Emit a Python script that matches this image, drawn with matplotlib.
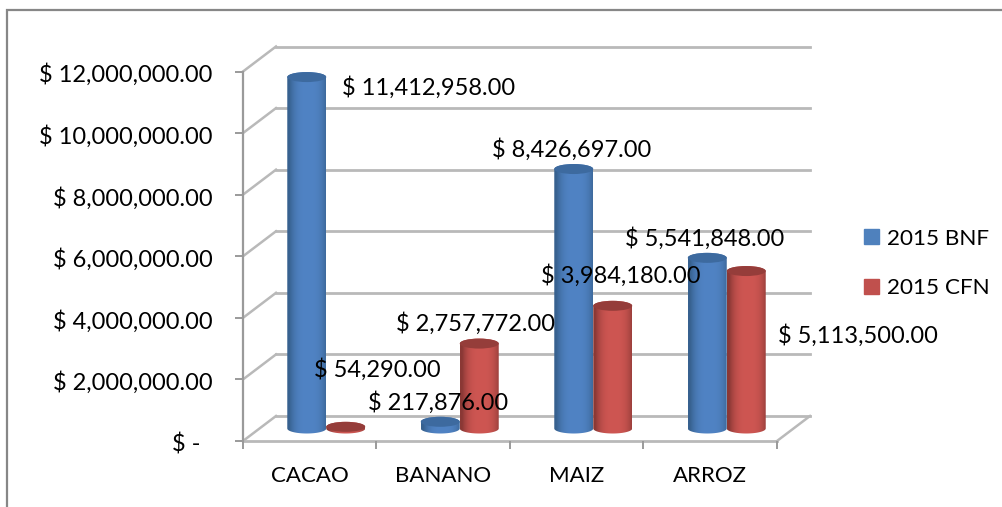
"""
Cylinder chart BNF / CFN 2015 by crop
"""
import numpy as np
import matplotlib
matplotlib.use('Agg')
import matplotlib.pyplot as plt
from matplotlib.patches import Ellipse, PathPatch, Patch, Rectangle
from matplotlib.path import Path
from matplotlib.transforms import Affine2D

plt.rcParams['font.family'] = ['Lato', 'DejaVu Sans']

#=============== data ===============================
categories = ["CACAO", "BANANO", "MAIZ", "ARROZ"]
bnf = [11412958., 217876., 8426697., 5541848.]
cfn = [54290., 2757772., 3984180., 5113500.]
y_ticks = [0, 2000000, 4000000, 6000000, 8000000, 10000000, 12000000]
series_names = ["2015 BNF", "2015 CFN"]
#====================================================

W, H = 1003, 507
FS = 17.
GRID = "#B9B9B9"
AXC = "#9A9A9A"

# front plane of the floor, in pixels
x0, x1 = 243., 777.
y0, y1 = 441., 71.5
dep_x, dep_y = 33., 25.   # depth of the box in pixels

fig = plt.figure(figsize=(W/100., H/100.), dpi=100)
fig.patch.set_facecolor("white")
ax = fig.add_axes([x0/W, 1-y0/H, (x1-x0)/W, (y0-y1)/H])
ax.patch.set_alpha(0)
for s in ax.spines.values():
	s.set_visible(False)

ymax = y_ticks[-1]
nc = len(categories)
px_x = nc/(x1-x0)
px_y = ymax/(y0-y1)
dx, dy = dep_x*px_x, dep_y*px_y

#------ outer frame -----
fig.add_artist(Rectangle((7./W, -0.1), 1.1, 1.1-10./H, transform=fig.transFigure,
	fill=False, edgecolor="#878787", linewidth=1.6))

#------ walls -----
for v in y_ticks:
	ax.plot([dx, nc+dx], [v+dy, v+dy], color=GRID, lw=2.0, clip_on=False, zorder=1)
	ax.plot([0, dx], [v, v+dy], color=GRID, lw=1.8, clip_on=False, zorder=1)
ax.plot([nc, nc+dx], [0, dy], color=GRID, lw=1.8, clip_on=False, zorder=1)
ax.plot([0, nc], [0, 0], color=GRID, lw=2.0, clip_on=False, zorder=1)
ax.plot([0, 0], [0, ymax], color=AXC, lw=1.6, clip_on=False, zorder=1)

#------ cylinders -----
bar_w = 0.292
ry = 5.0*px_y

def shade(edge, mid):
	edge, mid = np.array(matplotlib.colors.to_rgb(edge)), np.array(matplotlib.colors.to_rgb(mid))
	t = np.linspace(0, 1, 64)
	k = np.clip(1-(np.abs(2*t-1.1))**3, 0, 1)[:, None]
	return (edge + (mid-edge)*k)[None, :, :]

def cylinder(xc, val, edge, mid, cap, z):
	xc = xc + dx/2.
	b = dy/2.
	r = bar_w/2.
	t = np.linspace(np.pi, 2*np.pi, 40)
	xs = np.r_[xc + r*np.cos(t), xc + r*np.cos(t[::-1])]
	ys = np.r_[b + ry*np.sin(t), b + val + ry*np.sin(t[::-1]-np.pi)]
	clip = PathPatch(Path(np.c_[xs, ys]), transform=ax.transData, fc="none", ec="none")
	ax.add_patch(clip)
	im = ax.imshow(shade(edge, mid), extent=[xc-r, xc+r, 0, ymax], aspect="auto", zorder=z,
		interpolation="bilinear")
	im.set_clip_path(clip)
	ax.add_patch(Ellipse((xc, b+val), 2*r, 2*ry, fc=cap, ec="none", zorder=z+0.1))

for i in range(nc):
	cylinder(i+0.5-bar_w/2., bnf[i], "#37618F", "#5083C4", "#3D6A9F", 3+i*0.01)
	cylinder(i+0.5+bar_w/2., cfn[i], "#8A3835", "#CE5652", "#953D3A", 4+i*0.01)

ax.set_xlim(0, nc)
ax.set_ylim(0, ymax)

#------ ticks -----
def money(v):
	return "$ {:,.2f}".format(v)

ax.set_yticks(y_ticks)
ax.set_yticklabels(["$ -  "] + [money(v) for v in y_ticks[1:]], fontsize=FS, color="black")
ax.tick_params(axis="y", length=6, width=1.4, color=AXC, pad=16)
for t in ax.get_yticklabels():
	t.set_transform(t.get_transform() + Affine2D().translate(0, -1.5))
ax.set_xticks(range(nc+1))
ax.set_xticklabels([])
ax.tick_params(axis="x", which="major", length=6, width=1.4, color=AXC)
ax.set_xticks(np.arange(nc)+0.5, minor=True)
ax.set_xticklabels(categories, minor=True, fontsize=16, color="black")
ax.tick_params(axis="x", which="minor", length=0, pad=18)

#------ data labels, positions in image pixels -----
pix = Affine2D().scale(1./W, -1./H).translate(0, 1) + fig.transFigure
lab_pos = {
	(0, 0): (342, 87.5), (0, 1): (368, 402.5), (0, 2): (492, 149.5), (0, 3): (625, 238.5),
	(1, 0): (314, 369.5), (1, 1): (396, 323.5), (1, 2): (541, 275.5), (1, 3): (778, 335.5),
}
for j, vals in enumerate([bnf, cfn]):
	for i, v in enumerate(vals):
		px, py = lab_pos[(j, i)]
		ax.text(px, py, money(v), transform=pix, fontsize=FS, color="black",
			ha="left", va="center", zorder=10, clip_on=False)

#------ legend -----
handles = [Patch(color="#4F81BD", label=series_names[0]), Patch(color="#C0504D", label=series_names[1])]
fig.legend(handles=handles, loc="center left", bbox_to_anchor=(864./W, 1-263.5/H), frameon=False,
	fontsize=16.2, handlelength=0.67, handleheight=0.67, handletextpad=0.36, labelspacing=1.33,
	borderpad=0, borderaxespad=0)

fig.savefig("out.png", dpi=100)
